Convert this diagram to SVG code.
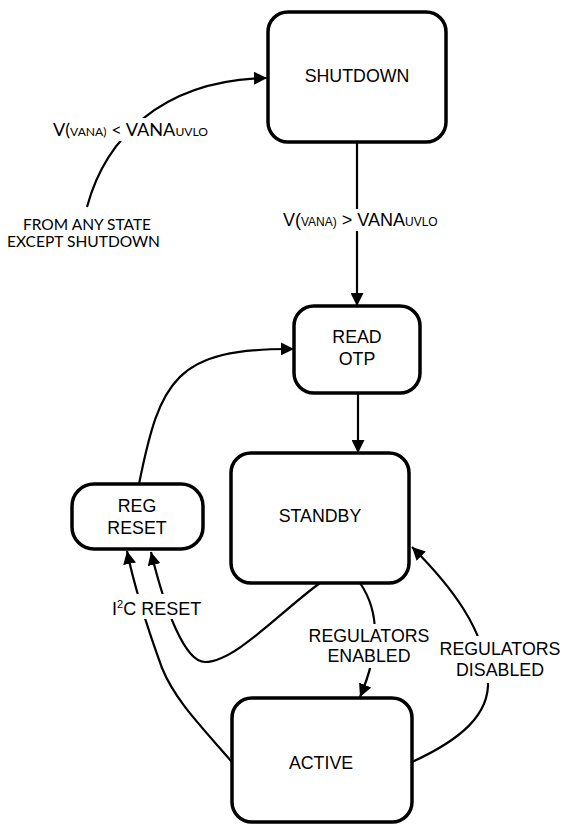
<svg xmlns="http://www.w3.org/2000/svg" width="564" height="826" viewBox="0 0 564 826">
<style>
.box{fill:#fff;stroke:#000;stroke-width:3.5}
.ln{fill:none;stroke:#000;stroke-width:2.2}
.t{font-family:"Liberation Sans",Arial,sans-serif;font-size:17.8px;fill:#000;text-anchor:middle}
.c{font-family:Lato,"Liberation Sans",sans-serif;fill:#000}
.s{font-size:12px}
.bg{fill:#fff}
</style>
<defs>
<marker id="ah" viewBox="0 0 13 13" refX="13" refY="6.5" markerWidth="13" markerHeight="13" markerUnits="userSpaceOnUse" orient="auto">
<path d="M0,0 L13,6.5 L0,13 z" fill="#000"/>
</marker>
</defs>
<g id="connectors">
<path class="ln" d="M87,207 C105,140 160,80 267,78" marker-end="url(#ah)"/>
<path class="ln" d="M357,142 L357,306" marker-end="url(#ah)"/>
<path class="ln" d="M358,393 L358,453" marker-end="url(#ah)"/>
<path class="ln" d="M139,484 C160,380 175,348 294,349" marker-end="url(#ah)"/>
<path class="ln" d="M320,583 C280,612 235,662 205,662 C185,662 165,610 151,552" marker-end="url(#ah)"/>
<path class="ln" d="M232,762 C200,725 175,700 162,668 C150,635 135,590 127,551" marker-end="url(#ah)"/>
<path class="ln" d="M360,583 C380,612 380,650 360,697" marker-end="url(#ah)"/>
<path class="ln" d="M412,762 C460,740 490,715 488,680 C486,630 450,585 412,547" marker-end="url(#ah)"/>
</g>
<g id="labels">
<rect class="bg" x="50" y="118" width="162" height="23"/>
<text class="c" x="53" y="136" font-size="18" textLength="155" lengthAdjust="spacingAndGlyphs">V(<tspan class="s">VANA)</tspan> &lt; VANA<tspan class="s">UVLO</tspan></text>
<text class="c" x="87" y="230" font-size="14.5" text-anchor="middle" textLength="128" lengthAdjust="spacingAndGlyphs">FROM ANY STATE</text>
<text class="c" x="83.5" y="247" font-size="14.5" text-anchor="middle" textLength="153" lengthAdjust="spacingAndGlyphs">EXCEPT SHUTDOWN</text>
<rect class="bg" x="281" y="209" width="160" height="22"/>
<text x="283" y="226" font-family="Liberation Sans, Arial, sans-serif" font-size="18" fill="#000">V(<tspan class="s">VANA)</tspan> &gt; VANA<tspan class="s">UVLO</tspan></text>
<rect class="bg" x="108" y="594" width="94" height="25"/>
<text x="112" y="615" font-family="Liberation Sans, Arial, sans-serif" font-size="18" fill="#000">I<tspan font-size="11" dy="-7">2</tspan><tspan dy="7">C RESET</tspan></text>
<rect class="bg" x="305" y="624" width="128" height="44"/>
<text class="t" x="369" y="642" font-size="18">REGULATORS</text>
<text class="t" x="369" y="662" font-size="18">ENABLED</text>
<rect class="bg" x="437" y="636" width="127" height="47"/>
<text class="t" x="500" y="655" font-size="18">REGULATORS</text>
<text class="t" x="500" y="676" font-size="18">DISABLED</text>
</g>
<g id="shutdown">
<rect class="box" x="268" y="12" width="178" height="130" rx="20"/>
<text class="t" x="357" y="82">SHUTDOWN</text>
</g>
<g id="read-otp">
<rect class="box" x="294" y="306" width="126" height="87" rx="20"/>
<text class="t" x="357" y="343">READ</text>
<text class="t" x="357" y="365">OTP</text>
</g>
<g id="reg-reset">
<rect class="box" x="72" y="484" width="131" height="65" rx="22"/>
<text class="t" x="137" y="512">REG</text>
<text class="t" x="137" y="534">RESET</text>
</g>
<g id="standby">
<rect class="box" x="231" y="453" width="178" height="130" rx="20"/>
<text class="t" x="320" y="522">STANDBY</text>
</g>
<g id="active">
<rect class="box" x="232" y="698" width="180" height="124" rx="20"/>
<text class="t" x="321" y="769">ACTIVE</text>
</g>
</svg>
